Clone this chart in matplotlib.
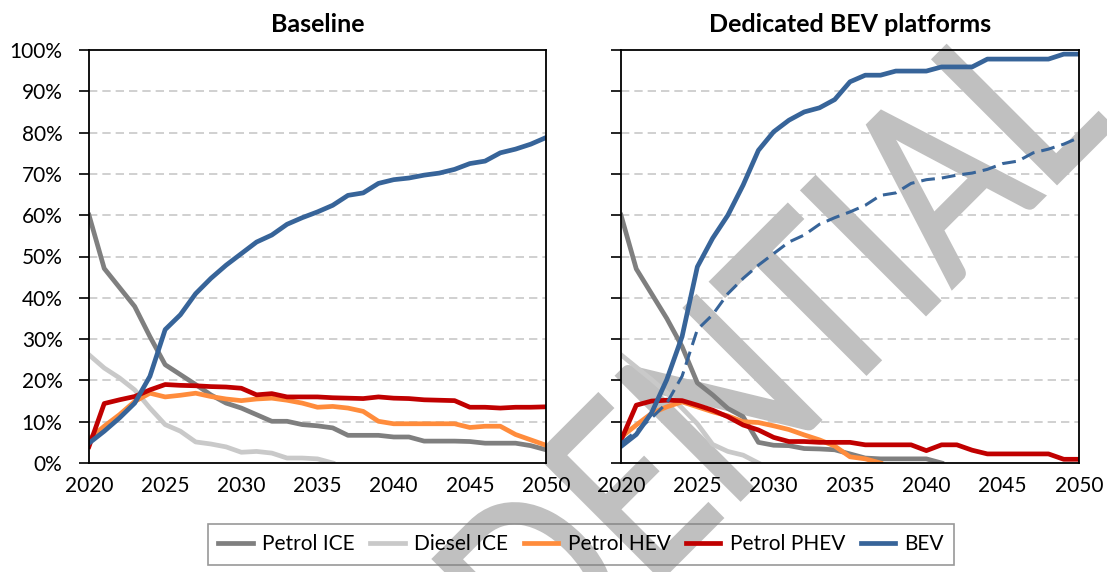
import matplotlib
matplotlib.use("Agg")
import matplotlib.pyplot as plt
import matplotlib.ticker as mticker
from matplotlib.textpath import TextPath
from matplotlib.patches import PathPatch
from matplotlib.font_manager import FontProperties
from matplotlib.transforms import Affine2D
import numpy as np

plt.rcParams['font.family'] = ['Lato', 'DejaVu Sans']

nan = np.nan
years = list(range(2020, 2051))

# Baseline scenario (% share of sales)
petrol_ice_base = [60.0, 47.1, 42.5, 37.9, 30.6, 23.8, 21.4, 19.0, 16.5, 14.5, 13.3, 11.7, 10.1, 10.1, 9.3, 9.0,
                   8.5, 6.7, 6.7, 6.7, 6.3, 6.3, 5.3, 5.3, 5.3, 5.2, 4.8, 4.8, 4.8, 4.2, 3.2]
diesel_ice_base = [26.2, 23.0, 20.6, 17.7, 13.3, 9.3, 7.7, 5.1, 4.6, 3.9, 2.6, 2.8, 2.4, 1.2, 1.2, 1.0,
                   0.0, nan, nan, nan, nan, nan, nan, nan, nan, nan, nan, nan, nan, nan, nan]
hev_base = [5.8, 8.9, 11.7, 14.9, 16.9, 16.0, 16.4, 16.9, 16.1, 15.5, 15.1, 15.5, 15.7, 15.2, 14.5, 13.5,
            13.7, 13.3, 12.5, 10.1, 9.5, 9.5, 9.5, 9.5, 9.5, 8.6, 8.9, 8.9, 6.9, 5.6, 4.3]
phev_base = [4.0, 14.4, 15.3, 16.1, 17.7, 19.0, 18.8, 18.7, 18.5, 18.4, 18.1, 16.5, 16.8, 16.0, 16.0, 16.0,
             15.8, 15.7, 15.6, 16.0, 15.7, 15.6, 15.3, 15.2, 15.1, 13.5, 13.5, 13.3, 13.5, 13.5, 13.6]
bev_base = [4.8, 7.7, 10.9, 14.5, 21.0, 32.3, 35.9, 41.0, 44.7, 47.9, 50.7, 53.5, 55.2, 57.8, 59.4, 60.8,
            62.4, 64.8, 65.4, 67.7, 68.6, 69.0, 69.7, 70.2, 71.1, 72.5, 73.1, 75.1, 76.0, 77.2, 78.8]

# Dedicated BEV platforms scenario
petrol_ice_ded = [60.0, 47.0, 41.0, 35.0, 28.2, 19.4, 16.5, 13.2, 11.2, 5.0, 4.3, 4.2, 3.5, 3.4, 3.2, 2.2,
                  1.2, 1.0, 1.0, 1.0, 1.0, 0.0, nan, nan, nan, nan, nan, nan, nan, nan, nan]
diesel_ice_ded = [26.2, 23.2, 20.2, 17.0, 13.3, 9.5, 4.5, 2.8, 1.9, 0.0, nan, nan, nan, nan, nan, nan,
                  nan, nan, nan, nan, nan, nan, nan, nan, nan, nan, nan, nan, nan, nan, nan]
hev_ded = [6.2, 9.2, 12.0, 13.6, 14.8, 13.6, 12.4, 11.4, 10.0, 9.8, 9.0, 8.1, 6.8, 5.6, 4.1, 1.5,
           1.0, 0.0, nan, nan, nan, nan, nan, nan, nan, nan, nan, nan, nan, nan, nan]
phev_ded = [5.5, 14.0, 15.0, 15.2, 15.1, 14.0, 12.8, 11.2, 9.2, 8.0, 6.2, 5.2, 5.2, 5.0, 5.0, 5.0,
            4.4, 4.4, 4.4, 4.4, 3.0, 4.4, 4.4, 3.1, 2.2, 2.2, 2.2, 2.2, 2.2, 0.9, 0.9]
bev_ded = [4.0, 6.9, 12.1, 20.2, 30.6, 47.5, 54.4, 60.0, 67.3, 75.7, 80.2, 83.0, 85.0, 86.0, 88.0, 92.3,
           93.9, 93.9, 94.9, 94.9, 94.9, 95.9, 95.9, 95.9, 97.8, 97.8, 97.8, 97.8, 97.8, 99.0, 99.0]

series_names = ['Petrol ICE', 'Diesel ICE', 'Petrol HEV', 'Petrol PHEV', 'BEV']
colors = ['#7f7f7f', '#c9c9c9', '#ff8c3c', '#c00000', '#376499']

fig = plt.figure(figsize=(11.07, 5.72), dpi=100)
W, H = 1107.0, 572.0
ax1 = fig.add_axes([89 / W, 1 - 463 / H, (546 - 89) / W, (463 - 50) / H])
ax2 = fig.add_axes([621 / W, 1 - 463 / H, (1079 - 621) / W, (463 - 50) / H])
ax1.set_zorder(1)  # left panel drawn last so its white face hides the watermark

panels = [
    (ax1, 'Baseline', [petrol_ice_base, diesel_ice_base, hev_base, phev_base, bev_base]),
    (ax2, 'Dedicated BEV platforms', [petrol_ice_ded, diesel_ice_ded, hev_ded, phev_ded, bev_ded]),
]

for ax, title, data in panels:
    ax.set_xlim(2020, 2050)
    ax.set_ylim(0, 100)
    ax.set_xticks(range(2020, 2051, 5))
    ax.set_yticks(range(0, 101, 10))
    for v in ax.get_yticks()[1:-1]:
        ax.axhline(v, color='#c8c8c8', lw=1.2, ls=(0, (5, 3)), zorder=1)
    for vals, name, c in zip(data, series_names, colors):
        ax.plot(years, vals, color=c, lw=3.4, label=name, zorder=2)
    ax.yaxis.set_major_formatter(mticker.PercentFormatter(decimals=0))
    ax.tick_params(axis='y', direction='out', length=7, width=1.2, labelsize=15, pad=12)
    ax.tick_params(axis='x', length=0, labelsize=15, pad=9)
    ax.xaxis.set_zorder(2.2)  # tick labels above the watermark
    ax.yaxis.set_zorder(2.2)
    for sp in ax.spines.values():
        sp.set_linewidth(1.3)
        sp.set_color('black')
    ax.set_title(title, fontsize=18, fontweight='bold', pad=13)

# baseline BEV for comparison
ax2.plot(years, bev_base, color=colors[4], lw=2.2, dashes=(4.5, 2.3), zorder=2)
ax2.tick_params(axis='y', labelleft=False)

# watermark: condensed text path, rotated 45 deg, placed in pixel space
wm_font = FontProperties(family='Lato')
wm = TextPath((0, 0), 'CONFIDENTIAL', size=1, prop=wm_font)
x_e = TextPath((0, 0), 'CONFID', size=1, prop=wm_font).get_extents().x1 + 0.07
x_l = TextPath((0, 0), 'CONFIDENTIA', size=1, prop=wm_font).get_extents().x1 + 0.08
em = 244.0
sx = 570.0 / ((x_l - x_e) * em)
wm_tr = Affine2D().translate(-x_e, 0).scale(sx * em, em).rotate_deg(45).translate(652, H - 588)
wm_patch = PathPatch(wm, transform=wm_tr, facecolor='#c0c0c0', edgecolor='#c0c0c0',
                     linewidth=2.5, zorder=1.8)
ax2.add_artist(wm_patch)
wm_patch.set_clip_on(False)

handles, labels = ax1.get_legend_handles_labels()
leg = fig.legend(handles, labels, ncol=5, loc='upper left',
                 bbox_to_anchor=(208 / W, 1 - 524 / H), borderaxespad=0,
                 frameon=True, fancybox=False, edgecolor='#7f7f7f', facecolor='none',
                 fontsize=15, handlelength=1.65, handletextpad=0.45,
                 columnspacing=0.75, borderpad=0.5)
leg.get_frame().set_linewidth(1.2)

fig.savefig('out.png', dpi=100)
